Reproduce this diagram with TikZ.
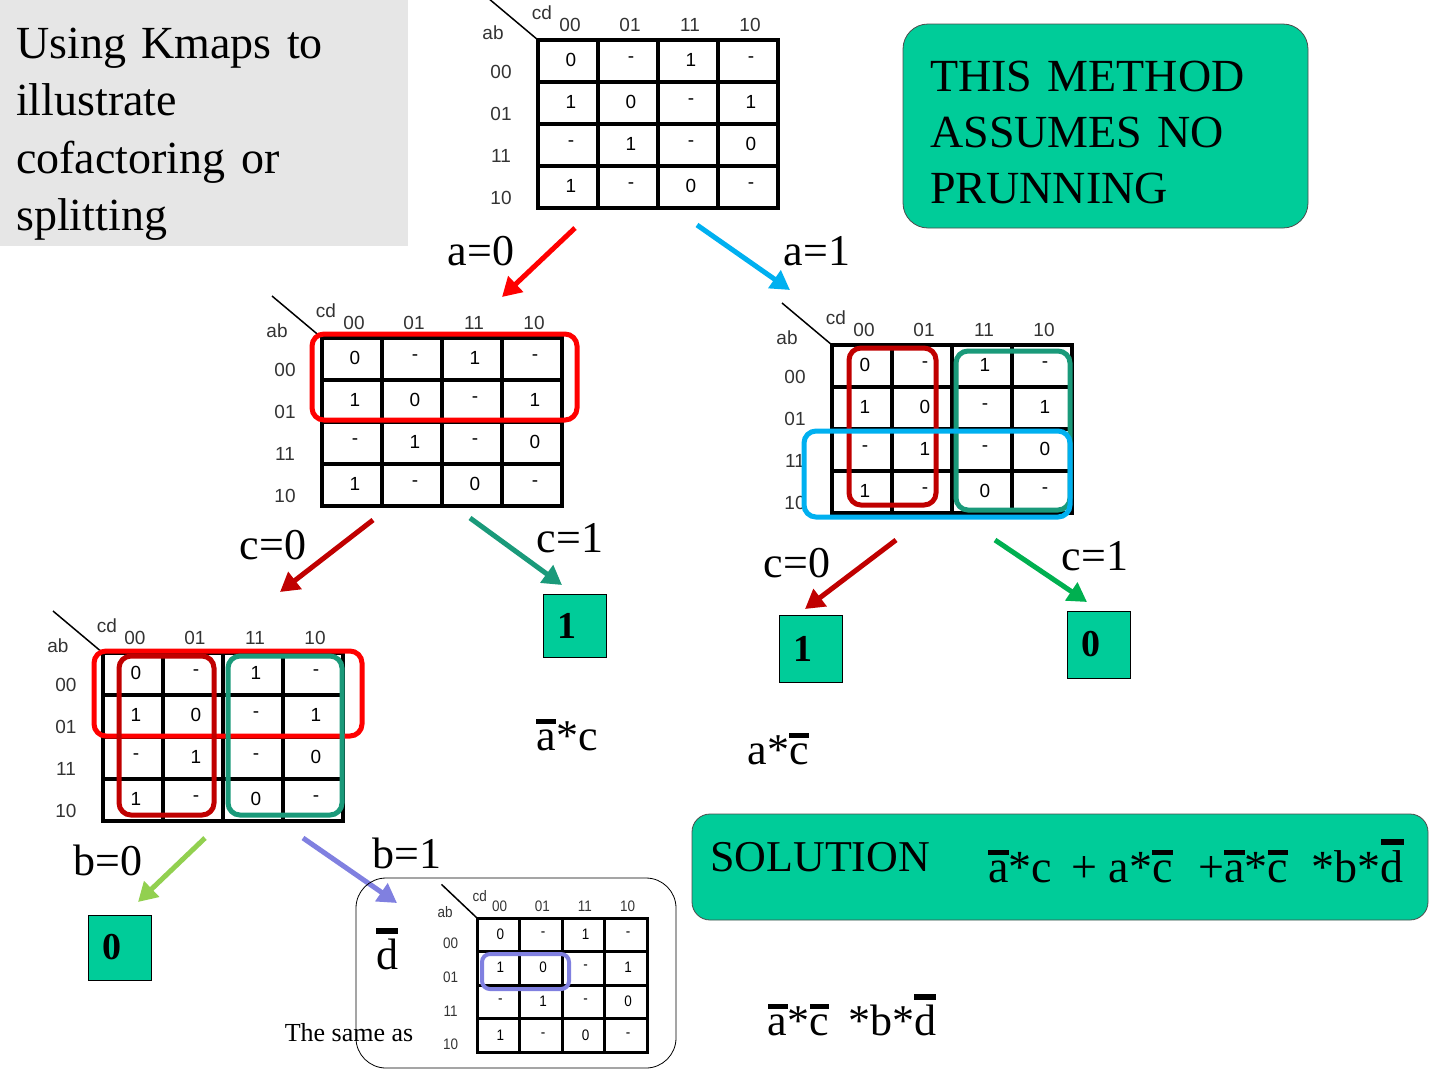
\documentclass[tikz,border=0pt]{standalone}
\usepackage{fontspec}
\setmainfont{Liberation Serif}
\newfontfamily\kfont{Liberation Sans}
\usetikzlibrary{arrows.meta, positioning}
\definecolor{cgreen}{HTML}{00CC99}
\definecolor{cgray}{HTML}{E6E6E6}
\definecolor{cred}{HTML}{FF0000}
\definecolor{cdred}{HTML}{C00000}
\definecolor{csky}{HTML}{00B0F0}
\definecolor{cteal}{HTML}{1A9A7A}
\definecolor{cgrn}{HTML}{00B050}
\definecolor{clgrn}{HTML}{92D050}
\definecolor{clav}{HTML}{8080E0}

% bar over a letter
\newsavebox\ovlbox
\newcommand{\ovl}[1]{\sbox\ovlbox{#1}\rlap{\rule[\dimexpr\ht\ovlbox+0.12em\relax]{\wd\ovlbox}{0.12em}}\usebox\ovlbox}

% one Karnaugh map, #1 top-left of grid, #2 extra transform, #3 name
\newcommand{\kmap}[3]{%
\begin{scope}[shift={#1}, #2, transform shape]
  \coordinate (#3) at (0,0);
  \draw[line width=1.5pt] (-50,-42) -- (0,0);
  \node[klab] at (4,-27) {cd};
  \node[klab] at (-45,-7) {ab};
  \foreach \v [count=\i] in {00,01,11,10} {
    \node[klab] at (60*\i-28,-15) {\v};
    \node[klab] at (-37,42*\i-10) {\v};
  }
  \foreach \r [count=\j] in {{0,-,1,-},{1,0,-,1},{-,1,-,0},{1,-,0,-}} {
    \foreach \e [count=\i] in \r {
      \node[kval] at (60*\i-27,42*\j-22) {\e};
    }
  }
  \foreach \i in {1,2,3} {
    \draw[kgrid] (60*\i,0) -- (60*\i,168);
    \draw[kgrid] (0,42*\i) -- (240,42*\i);
  }
  \draw[kgrid] (0,0) rectangle (240,168);
\end{scope}}

\begin{document}
\begin{tikzpicture}[x=1pt, y=-1pt,
  >={Triangle[length=19pt,width=21pt]},
  klab/.style={font=\kfont\fontsize{19}{19}\selectfont, text=black!80, inner sep=0pt},
  kval/.style={font=\kfont\fontsize{19}{19}\selectfont, inner sep=0pt},
  kgrid/.style={line width=4.5pt},
  loop/.style={line width=5pt, rounded corners=12pt},
  arr/.style={->, line width=5pt},
  lbl/.style={font=\fontsize{44}{44}\selectfont, inner sep=0pt},
  leaf/.style={draw, thick, fill=cgreen, font=\bfseries\fontsize{38}{38}\selectfont,
               text width=35pt, inner xsep=14pt, inner ysep=0pt, align=left},
  note/.style={draw=black!70, thick, fill=cgreen, rounded corners=25pt, align=left,
               font=\fontsize{46}{56}\selectfont},
  ]
\useasboundingbox (0,0) rectangle (1440,1080);

% title and remark
\node[fill=cgray, anchor=north west, minimum width=408pt, minimum height=246pt] (title) at (0,0) {};
\node[anchor=west, text width=390pt, inner sep=0pt, align=left,
      font=\fontsize{46}{57.5}\selectfont] (titletxt) at (16,134)
      {Using Kmaps to\\illustrate\\cofactoring or\\splitting};
\node[note, minimum width=405pt, minimum height=204pt, text width=351pt, inner xsep=27pt]
      (remark) at (1105.5,126) {};
\node[anchor=west, text width=360pt, inner sep=0pt, align=left,
      font=\fontsize{46}{56}\selectfont] (remarktxt) at (930,132)
      {THIS METHOD\\ASSUMES NO\\PRUNNING};

% the maps
\kmap{(538,40)}{scale=1}{kTop}
\kmap{(322,338)}{scale=1}{kA0}
\kmap{(832,345)}{scale=1}{kA1}
\kmap{(103,653)}{scale=1}{kC0}

\draw[loop, cred] (312,334) rectangle (577,420);
\draw[loop, cdred] (849,348) rectangle (936,505);
\draw[loop, cteal] (956,351) rectangle (1070,510);
\draw[loop, csky] (804,431) rectangle (1070,517);
\draw[loop, cred] (94,651) rectangle (362,736);
\draw[loop, cdred] (119,656) rectangle (214,815);
\draw[loop, cteal] (228,656) rectangle (342,815);

% split on a
\coordinate (a0s) at (575,228);
\coordinate (a0e) at (502,297);
\coordinate (a1s) at (697,225);
\coordinate (a1e) at (790,290);
\draw[arr, cred] (a0s) -- (a0e);
\draw[arr, csky] (a1s) -- (a1e);
\node[lbl] (la0) at (481,251) {a=0};
\node[lbl] (la1) at (817,251) {a=1};

% split on c
\coordinate (c0ls) at (373,520);
\coordinate (c0le) at (280,592);
\coordinate (c1ls) at (470,518);
\coordinate (c1le) at (562,585);
\coordinate (c0rs) at (896,540);
\coordinate (c0re) at (805,609);
\coordinate (c1rs) at (995,540);
\coordinate (c1re) at (1087,602);
\draw[arr, cdred] (c0ls) -- (c0le);
\draw[arr, cteal] (c1ls) -- (c1le);
\draw[arr, cdred] (c0rs) -- (c0re);
\draw[arr, cgrn] (c1rs) -- (c1re);
\node[lbl] (lc0l) at (273,545) {c=0};
\node[lbl] (lc1l) at (570,538) {c=1};
\node[lbl] (lc0r) at (797,563) {c=0};
\node[lbl] (lc1r) at (1095,556) {c=1};

\node[leaf, minimum height=63pt] (one1) at (575,625.5) {1};
\node[leaf, minimum height=67pt] (one2) at (811,648.5) {1};
\node[leaf, minimum height=67pt] (zero1) at (1099,644.5) {0};
\node[lbl] (t1) at (567,735) {\ovl{a}*c};
\node[lbl] (t2) at (778,749) {a*\ovl{c}};

% split on b
\coordinate (b0s) at (205,838);
\coordinate (b0e) at (138,902);
\coordinate (b1s) at (303,838);
\coordinate (b1e) at (397,903);
\draw[arr, clgrn] (b0s) -- (b0e);
\draw[arr, clav] (b1s) -- (b1e);
\node[lbl] (lb0) at (108,860) {b=0};
\node[lbl] (lb1) at (407,853) {b=1};
\node[leaf, minimum height=65pt] (zero2) at (119.5,947.5) {0};

\draw[thick, rounded corners=30pt] (356,878) rectangle (676,1068);
\kmap{(477,918)}{xscale=0.71, yscale=0.8, kgrid/.append style={line width=3pt}}{kD}
\draw[loop, clav, line width=4pt, rounded corners=8pt] (482,954) rectangle (569,989);
\node[lbl] (dbar) at (387,949) {\ovl{d}};
\node[font=\fontsize{26}{26}\selectfont, inner sep=0pt] (same) at (349,1033) {The same as};
\node[lbl] (t3) at (852,1015) {\ovl{a}*\ovl{c}\hspace{8pt} *b*\ovl{d}};

% result
\node[note, rounded corners=18pt, minimum width=736pt, minimum height=106pt] (sol) at (1060,867) {};
\node[lbl, anchor=west] (soltxt) at (710,857) {SOLUTION};
\node[lbl, anchor=west, font=\fontsize{46}{46}\selectfont] (solexpr) at (988,861)
  {\ovl{a}*c \hspace{8pt}+ a*\ovl{c} \hspace{14pt}+\ovl{a}*\ovl{c}\hspace{12pt} *b*\ovl{d}};
\end{tikzpicture}
\end{document}
